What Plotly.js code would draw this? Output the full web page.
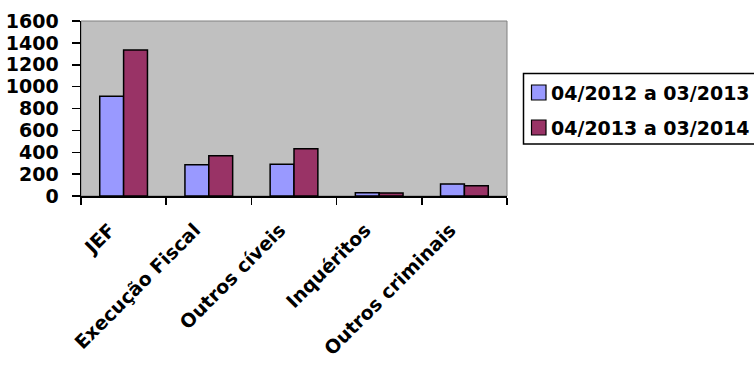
<!DOCTYPE html>
<html>
<head>
<meta charset="utf-8">
<script src="https://cdn.plot.ly/plotly-3.0.1.min.js"></script>
<style>html,body{margin:0;padding:0;background:#fff;}#chart{width:754px;height:365px;}</style>
</head>
<body>
<div id="chart"></div>
<script>
const categories = ["JEF", "Execução Fiscal", "Outros cíveis", "Inquéritos", "Outros criminais"];
const seriesNames = ["04/2012 a 03/2013", "04/2013 a 03/2014"];
const series2012 = [911, 286, 290, 30, 110];
const series2013 = [1335, 369, 433, 28, 94];
const yTicks = [0, 200, 400, 600, 800, 1000, 1200, 1400, 1600];
const colors = ["#9999FF", "#993366"];

const fontFam = "DejaVu Sans, Arial, sans-serif";
const M = {l: 81, r: 247, t: 21, b: 169};
const W = 754, H = 365;
const pw = W - M.l - M.r, ph = H - M.t - M.b;
const px = x => (x - M.l) / pw;
const py = y => (H - M.b - y) / ph;

const seriesVals = [series2012, series2013];
const traces = seriesVals.map((vals, i) => ({
  type: "bar", x: categories, y: vals, name: seriesNames[i], showlegend: false,
  marker: {color: colors[i], line: {color: "#000", width: 1.5}}
}));

// custom legend (matches reference geometry)
const shapes = [
  {type: "rect", xref: "paper", yref: "paper", x0: 0, x1: 1, y0: 0, y1: 1,
   line: {color: "#808080", width: 1}, layer: "below"},
  {type: "rect", xref: "paper", yref: "paper", x0: px(523.5), x1: px(790), y0: py(144), y1: py(73.5),
   line: {color: "#000", width: 1.5}, fillcolor: "#fff", layer: "above"}
];
const annotations = [];
const rowY = [92.5, 127.5];
seriesNames.forEach((nm, i) => {
  shapes.push({type: "rect", xref: "paper", yref: "paper",
    x0: px(531.5), x1: px(546), y0: py(rowY[i] + 7.5), y1: py(rowY[i] - 7.5),
    line: {color: "#000", width: 1.2}, fillcolor: colors[i], layer: "above"});
  annotations.push({xref: "paper", yref: "paper", x: px(550), y: py(rowY[i]),
    xanchor: "left", yanchor: "middle", showarrow: false, text: nm, borderpad: 0,
    font: {family: fontFam, size: 19, color: "#000", weight: "bold"}});
});

const layout = {
  width: W, height: H,
  margin: {l: M.l, r: M.r, t: M.t, b: M.b, pad: 0, autoexpand: false},
  paper_bgcolor: "#fff", plot_bgcolor: "#C0C0C0",
  barmode: "group", bargap: 0.44, bargroupgap: 0,
  showlegend: false,
  font: {family: fontFam, size: 19, color: "#000", weight: "bold"},
  xaxis: {type: "category", tickangle: -45, ticks: "outside", ticklen: 7, tickwidth: 1.5,
          tickcolor: "#000", tickson: "boundaries", showline: true, linecolor: "#000", linewidth: 1.5,
          showgrid: false, zeroline: false, automargin: false,
          ticklabelstandoff: 14, ticklabelshift: -14,
          tickfont: {family: fontFam, size: 19, color: "#000", weight: "bold"}},
  yaxis: {range: [0, 1600], tickvals: yTicks, ticks: "outside", ticklen: 8, tickwidth: 1.5,
          tickcolor: "#000", showline: true, linecolor: "#000", linewidth: 1.5,
          showgrid: false, zeroline: false, ticklabelstandoff: 9, automargin: false,
          tickfont: {family: fontFam, size: 19, color: "#000", weight: "bold"}},
  shapes: shapes,
  annotations: annotations
};
Plotly.newPlot("chart", traces, layout, {displayModeBar: false, staticPlot: true});
</script>
</body>
</html>
